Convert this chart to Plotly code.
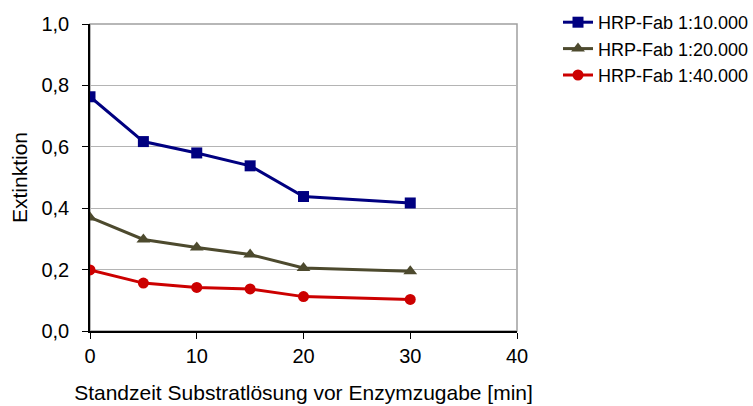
import plotly.graph_objects as go

x_min = [0, 5, 10, 15, 20, 30]
s_10000 = [0.763, 0.617, 0.580, 0.538, 0.438, 0.417]
s_20000 = [0.370, 0.298, 0.272, 0.249, 0.205, 0.195]
s_40000 = [0.199, 0.156, 0.142, 0.137, 0.112, 0.103]
names = ["HRP-Fab 1:10.000", "HRP-Fab 1:20.000", "HRP-Fab 1:40.000"]
colors = ["#000080", "#4D4A2E", "#CC0000"]
symbols = ["square", "triangle-up", "circle"]
sizes = [11, 12, 11]

fig = go.Figure()
for ys, nm, c, sym, sz in zip([s_10000, s_20000, s_40000], names, colors, symbols, sizes):
    fig.add_trace(go.Scatter(x=x_min, y=ys, name=nm, mode="lines+markers",
                             line=dict(color=c, width=3),
                             marker=dict(symbol=sym, size=sz, color=c)))

fig.add_shape(type="rect", xref="paper", yref="paper", x0=0, y0=0, x1=1, y1=1,
              line=dict(color="#A0A0A0", width=1.5), layer="below")

font = "Liberation Sans, Arial, sans-serif"
fig.update_layout(
    width=753, height=406,
    margin=dict(l=90, r=236, t=24, b=75),
    paper_bgcolor="white", plot_bgcolor="white",
    separators=",.",
    font=dict(family=font, size=20, color="black"),
    showlegend=True,
    legend=dict(x=558 / 753, y=1 - 4 / 406, xref="container", yref="container",
                xanchor="left", yanchor="top",
                font=dict(size=18, family=font), tracegroupgap=0,
                bgcolor="rgba(0,0,0,0)", itemwidth=30),
    xaxis=dict(range=[0, 40], tickvals=[0, 10, 20, 30, 40], showgrid=False,
               showline=True, linecolor="black", linewidth=1.5,
               ticks="outside", ticklen=6, tickcolor="black", zeroline=False,
               tickfont=dict(size=20), automargin=False,
               title=dict(text="Standzeit Substratlösung vor Enzymzugabe [min]",
                          font=dict(size=21), standoff=20)),
    yaxis=dict(range=[0, 1.0], tickvals=[0, 0.2, 0.4, 0.6, 0.8, 1.0], tickformat=".1f",
               showgrid=True, gridcolor="#B4B4B4", gridwidth=1,
               showline=True, linecolor="black", linewidth=1.5,
               ticks="outside", ticklen=6, tickcolor="black", zeroline=False,
               tickfont=dict(size=20), ticklabelstandoff=9, automargin=False,
               title=dict(text="Extinktion", font=dict(size=21), standoff=8)),
)

fig.write_html("out.html")
